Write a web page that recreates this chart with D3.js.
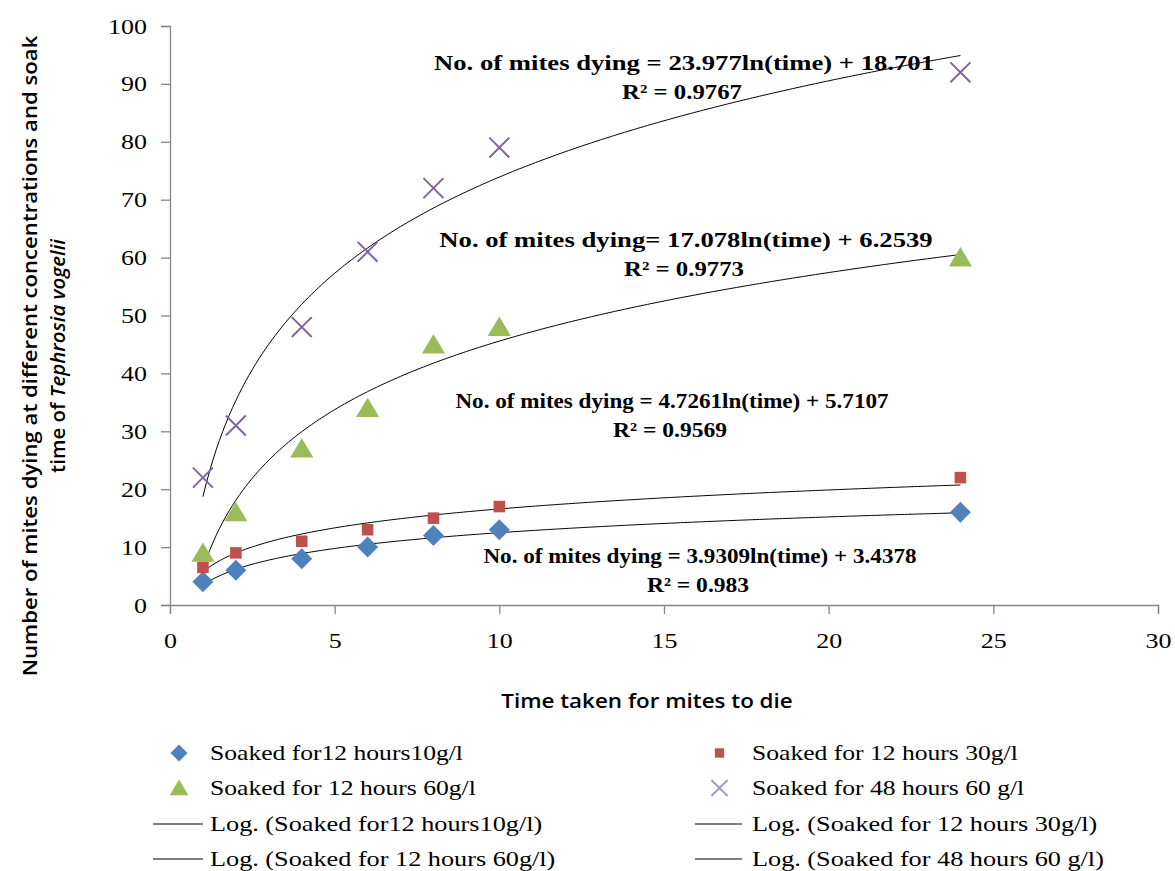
<!DOCTYPE html>
<html>
<head>
<meta charset="utf-8">
<script src="https://cdn.jsdelivr.net/npm/d3@7"></script>
<style>
  body { margin: 0; background: #fff; }
  svg { display: block; }
</style>
</head>
<body>
<div id="chart"></div>
<script>
//Chart data
var times = [1, 2, 4, 6, 8, 10, 24];
var soak12h10 = [4, 6, 8, 10, 12, 13, 16];
var soak12h30 = [6.5, 9, 11, 13, 15, 17, 22];
var soak12h60 = [9, 16, 27, 34, 45, 48, 60];
var soak48h60 = [22, 31, 48, 61, 72, 79, 92];

var seriesNames = ["Soaked for12 hours10g/l", "Soaked for 12 hours 30g/l",
  "Soaked for 12 hours 60g/l", "Soaked for 48 hours 60 g/l"];
var seriesColors = ["#4f81bd", "#c0504d", "#9bbb59", "#8064a2"];
var seriesShapes = ["diamond", "square", "triangle", "cross"];

//Log trendline coefficients (slope, intercept) as printed on the chart
var trendSlope = [3.9309, 4.7261, 17.078, 23.977];
var trendIntercept = [3.4378, 5.7107, 6.2539, 18.701];
var trendLabels = [
  ["No. of mites dying = 3.9309ln(time) + 3.4378", "R² = 0.983"],
  ["No. of mites dying = 4.7261ln(time) + 5.7107", "R² = 0.9569"],
  ["No. of mites dying= 17.078ln(time) + 6.2539", "R² = 0.9773"],
  ["No. of mites dying = 23.977ln(time) + 18.701", "R² = 0.9767"]
];

var xTicks = [0, 5, 10, 15, 20, 25, 30];
var yTicks = [0, 10, 20, 30, 40, 50, 60, 70, 80, 90, 100];

var allSeries = [soak12h10, soak12h30, soak12h60, soak48h60];

//Canvas
var W = 1175, H = 871;
var margin = {top: 26, left: 170, right: 17, bottom: 266};

var svg = d3.select("#chart").append("svg")
  .attr("width", W).attr("height", H);

var x = d3.scaleLinear().domain([0, 30]).range([margin.left, W - margin.right]);
var y = d3.scaleLinear().domain([0, 100]).range([H - margin.bottom, margin.top]);

var serif = "'Liberation Serif', 'Times New Roman', serif";
var sans = "'Open Sans', 'Noto Sans', sans-serif";

//The original text is drawn a bit wider than the font, so stretch it sideways
function stretch(sel, factor) {
  sel.each(function() {
    var w = this.getComputedTextLength();
    d3.select(this).attr("textLength", w * factor).attr("lengthAdjust", "spacingAndGlyphs");
  });
}

//Axes
var yAxis = svg.append("g")
  .attr("transform", "translate(" + x(0) + ",0)")
  .call(d3.axisLeft(y).tickValues(yTicks).tickSize(9).tickPadding(14));
var xAxis = svg.append("g")
  .attr("transform", "translate(0," + y(0) + ")")
  .call(d3.axisBottom(x).tickValues(xTicks).tickSize(9).tickPadding(18));

[xAxis, yAxis].forEach(function(g) {
  g.selectAll("path, line").attr("stroke", "#878787").attr("stroke-width", 1.3);
  g.selectAll("text").attr("font-family", serif).attr("font-size", 22).attr("fill", "#000")
    .call(stretch, 1.18);
});

//Axis titles
svg.append("text")
  .attr("x", 647).attr("y", 708)
  .attr("text-anchor", "middle")
  .attr("font-family", sans).attr("font-weight", 600).attr("font-size", 20)
  .text("Time taken for mites to die")
  .call(stretch, 1.12);

var yTitle = svg.append("g").attr("transform", "translate(37,356) rotate(-90)");
yTitle.append("text")
  .attr("text-anchor", "middle")
  .attr("font-family", sans).attr("font-weight", 600).attr("font-size", 20.5)
  .text("Number of mites dying at different concentrations and soak")
  .call(stretch, 1.08);
var line2 = yTitle.append("text")
  .attr("y", 28)
  .attr("text-anchor", "middle")
  .attr("font-family", sans).attr("font-weight", 600).attr("font-size", 20.5);
line2.append("tspan").text("time of ");
line2.append("tspan").attr("font-style", "italic").text("Tephrosia vogelii");

//Trendlines
var curve = d3.line()
  .x(function(d) { return x(d[0]); })
  .y(function(d) { return y(d[1]); });

trendSlope.forEach(function(a, i) {
  var pts = d3.range(1, 24.01, 0.1).map(function(t) {
    return [t, a * Math.log(t) + trendIntercept[i]];
  });
  svg.append("path")
    .attr("d", curve(pts))
    .attr("fill", "none")
    .attr("stroke", "#000")
    .attr("stroke-width", 1);
});

//Markers
function drawMarker(g, shape, color, cx, cy, s) {
  if (shape === "diamond") {
    g.append("path")
      .attr("d", "M" + cx + "," + (cy - s) + "L" + (cx + s) + "," + cy + "L" + cx + "," + (cy + s) + "L" + (cx - s) + "," + cy + "Z")
      .attr("fill", color);
  } else if (shape === "square") {
    var h = s * 0.55;
    g.append("rect").attr("x", cx - h).attr("y", cy - h)
      .attr("width", 2 * h).attr("height", 2 * h).attr("fill", color);
  } else if (shape === "triangle") {
    g.append("path")
      .attr("d", "M" + cx + "," + (cy - s) + "L" + (cx + s * 1.1) + "," + (cy + s * 0.85) + "L" + (cx - s * 1.1) + "," + (cy + s * 0.85) + "Z")
      .attr("fill", color);
  } else {
    var c = s * 0.95;
    g.append("path")
      .attr("d", "M" + (cx - c) + "," + (cy - c) + "L" + (cx + c) + "," + (cy + c) + "M" + (cx - c) + "," + (cy + c) + "L" + (cx + c) + "," + (cy - c))
      .attr("stroke", color).attr("stroke-width", 2).attr("fill", "none");
  }
}

var marks = svg.append("g").attr("class", "marks");
allSeries.forEach(function(vals, i) {
  vals.forEach(function(v, j) {
    drawMarker(marks, seriesShapes[i], seriesColors[i], x(times[j]), y(v), 10.5);
  });
});

//Trendline equations
var labelPos = [[700, 563, 1.1, 1.12], [672, 408, 1.1, 1.12], [686, 247, 1.27, 1.18], [684, 70, 1.27, 1.18]];
trendLabels.forEach(function(lines, i) {
  var p = labelPos[i];
  var g = svg.append("g")
    .attr("font-family", serif).attr("font-weight", "bold").attr("font-size", 21)
    .attr("text-anchor", "middle");
  g.append("text").attr("x", p[0]).attr("y", p[1]).text(lines[0]).call(stretch, p[2]);
  g.append("text").attr("x", p[0] - 2).attr("y", p[1] + 29).text(lines[1]).call(stretch, p[3]);
});

//Legend
var legendItems = [
  {col: 0, row: 0, kind: 0}, {col: 1, row: 0, kind: 1},
  {col: 0, row: 1, kind: 2}, {col: 1, row: 1, kind: 3},
  {col: 0, row: 2, kind: 0, line: true}, {col: 1, row: 2, kind: 1, line: true},
  {col: 0, row: 3, kind: 2, line: true}, {col: 1, row: 3, kind: 3, line: true}
];
var colX = [[153, 203, 210], [695, 742, 752]];
var rowY = [753, 788, 824, 859];

var legend = svg.append("g").attr("class", "legend");
legendItems.forEach(function(d) {
  var cx = colX[d.col], cy = rowY[d.row];
  if (d.line) {
    legend.append("line")
      .attr("x1", cx[0]).attr("x2", cx[1]).attr("y1", cy).attr("y2", cy)
      .attr("stroke", "#000").attr("stroke-width", 1.2);
  } else {
    var col = seriesShapes[d.kind] === "cross" ? "#a898c4" : seriesColors[d.kind];
    drawMarker(legend, seriesShapes[d.kind], col, (cx[0] + cx[1]) / 2 + 1, cy, 8.5);
  }
  legend.append("text")
    .attr("x", cx[2]).attr("y", cy + 7)
    .attr("font-family", serif).attr("font-size", 21.5)
    .text((d.line ? "Log. (" : "") + seriesNames[d.kind] + (d.line ? ")" : ""))
    .call(stretch, d.line ? 1.22 : 1.19);
});
</script>
</body>
</html>
